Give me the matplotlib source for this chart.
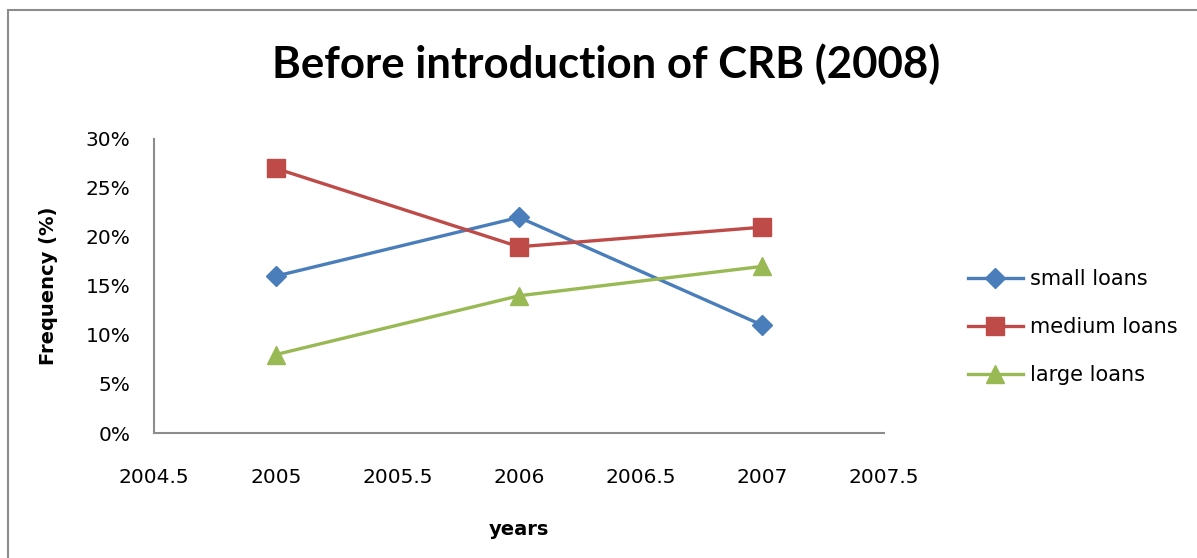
import matplotlib.pyplot as plt
from matplotlib.patches import Rectangle
from matplotlib.ticker import FuncFormatter

# data
years = [2005, 2006, 2007]
small_loans = [0.16, 0.22, 0.11]
medium_loans = [0.27, 0.19, 0.21]
large_loans = [0.08, 0.14, 0.17]

plt.rcParams['font.family'] = ['DejaVu Sans']

fig = plt.figure(figsize=(11.97, 5.58), dpi=100)
ax = fig.add_axes([0.1287, 0.224, 0.6098, 0.527])

ax.plot(years, small_loans, color="#4A7EBB", lw=2.4, marker="D", ms=10, label="small loans")
ax.plot(years, medium_loans, color="#BE4B48", lw=2.4, marker="s", ms=13, label="medium loans")
ax.plot(years, large_loans, color="#98B954", lw=2.4, marker="^", ms=13, label="large loans")

ax.set_xlim(2004.5, 2007.5)
ax.set_ylim(0, 0.30)
ax.set_xticks([2004.5, 2005, 2005.5, 2006, 2006.5, 2007, 2007.5])
ax.set_xticklabels(["2004.5", "2005", "2005.5", "2006", "2006.5", "2007", "2007.5"])
ax.set_yticks([0, 0.05, 0.10, 0.15, 0.20, 0.25, 0.30])
ax.yaxis.set_major_formatter(FuncFormatter(lambda v, p: f"{round(v * 100)}%"))
ax.tick_params(length=0, labelsize=14.5)
ax.tick_params(axis="x", pad=25)
ax.tick_params(axis="y", pad=17)

for s in ["top", "right"]:
    ax.spines[s].set_visible(False)
for s in ["left", "bottom"]:
    ax.spines[s].set_color("#8c8c8c")
    ax.spines[s].set_linewidth(1.5)

ax.set_xlabel("years", fontsize=14, fontweight="bold", labelpad=24)
ax.set_ylabel("Frequency (%)", fontsize=14, fontweight="bold", labelpad=20)

fig.text(0.506, 0.885, "Before introduction of CRB (2008)", fontsize=31.5,
         fontweight="bold", ha="center", va="center", family=["Lato", "DejaVu Sans"])

ax.legend(loc="center left", bbox_to_anchor=(1.089, 0.36), frameon=False,
          fontsize=15, handlelength=2.65, labelspacing=1.35, handletextpad=0.33)

# chart area border (cropped at right and bottom)
fig.patches.append(Rectangle((8 / 1197, -0.1), 1.2, 1.1 - 10 / 558,
                             transform=fig.transFigure, fill=False,
                             edgecolor="#8c8c8c", lw=1.5))

fig.savefig("out.png", dpi=100)
